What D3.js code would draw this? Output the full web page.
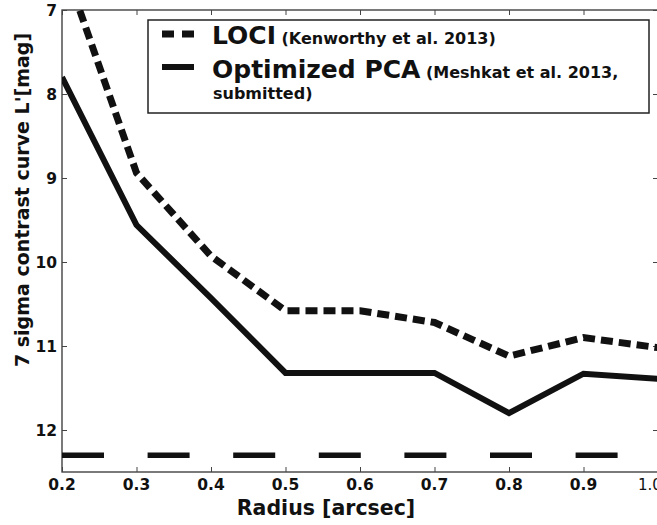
<!DOCTYPE html>
<html>
<head>
<meta charset="utf-8">
<script src="https://cdn.jsdelivr.net/npm/d3@7"></script>
<style>
  body { margin: 0; background: #fff; }
  text { font-family: "DejaVu Sans", sans-serif; font-weight: bold; fill: #111; }
</style>
</head>
<body>
<div id="chart"></div>
<script>

const FRAME_WIDTH = 657;
const FRAME_HEIGHT = 525;
const MARGINS = {left: 62, right: -1, top: 10, bottom: 53};

const VIS_WIDTH = FRAME_WIDTH - MARGINS.left - MARGINS.right;
const VIS_HEIGHT = FRAME_HEIGHT - MARGINS.top - MARGINS.bottom;

// data
const RADIUS = [0.2, 0.3, 0.4, 0.5, 0.6, 0.7, 0.8, 0.9, 1.0];
const LOCI = [6.4, 8.94, 9.93, 10.58, 10.58, 10.72, 11.12, 10.9, 11.02];
const PCA = [7.8, 9.56, 10.43, 11.32, 11.32, 11.32, 11.8, 11.33, 11.39];
const LIMIT_RADIUS = [0.2, 1.0];
const LIMIT = [12.3, 12.3];
const X_TICKS = [0.2, 0.3, 0.4, 0.5, 0.6, 0.7, 0.8, 0.9, 1.0];
const Y_TICKS = [7, 8, 9, 10, 11, 12];

const FRAME = d3.select("#chart")
                .append("svg")
                  .attr("width", FRAME_WIDTH)
                  .attr("height", FRAME_HEIGHT);

const X_SCALE = d3.scaleLinear().domain([0.2, 1.0]).range([0, VIS_WIDTH]);
const Y_SCALE = d3.scaleLinear().domain([7, 12.5]).range([0, VIS_HEIGHT]);

const G = FRAME.append("g")
               .attr("transform", "translate(" + MARGINS.left + "," + MARGINS.top + ")");

G.append("clipPath").attr("id", "clip")
  .append("rect").attr("width", VIS_WIDTH).attr("height", VIS_HEIGHT);

// frame
G.append("rect")
  .attr("width", VIS_WIDTH).attr("height", VIS_HEIGHT)
  .attr("fill", "none").attr("stroke", "#333").attr("stroke-width", 1.3);

// inward ticks on all four sides
const tickStyle = (g) => {
  g.select(".domain").remove();
  g.selectAll(".tick line").attr("stroke", "#444").attr("stroke-width", 1);
};

G.append("g").attr("transform", "translate(0," + VIS_HEIGHT + ")")
  .call(d3.axisBottom(X_SCALE).tickValues(X_TICKS).tickSize(-5).tickFormat(""))
  .call(tickStyle);
G.append("g")
  .call(d3.axisTop(X_SCALE).tickValues(X_TICKS).tickSize(-5).tickFormat(""))
  .call(tickStyle);
G.append("g")
  .call(d3.axisLeft(Y_SCALE).tickValues(Y_TICKS).tickSize(-5).tickFormat(""))
  .call(tickStyle);
G.append("g").attr("transform", "translate(" + VIS_WIDTH + ",0)")
  .call(d3.axisRight(Y_SCALE).tickValues(Y_TICKS).tickSize(-5).tickFormat(""))
  .call(tickStyle);

// tick labels
G.selectAll(".xlab")
  .data(X_TICKS)
  .enter()
  .append("text")
    .attr("x", (d) => X_SCALE(d))
    .attr("y", VIS_HEIGHT + 18)
    .attr("text-anchor", "middle")
    .style("font-size", (d) => d === 1.0 ? "15px" : "15.5px")
    .style("font-weight", (d) => d === 1.0 ? "normal" : "bold")
    .attr("dx", (d) => d === 1.0 ? -8 : 0)
    .text((d) => d.toFixed(1));

G.selectAll(".ylab")
  .data(Y_TICKS)
  .enter()
  .append("text")
    .attr("x", -5)
    .attr("y", (d) => Y_SCALE(d) + 6)
    .attr("text-anchor", "end")
    .style("font-size", "15.5px")
    .text((d) => d);

// axis titles
FRAME.append("text")
  .attr("x", 326).attr("y", 515)
  .attr("text-anchor", "middle")
  .style("font-size", "20.5px")
  .text("Radius [arcsec]");

FRAME.append("text")
  .attr("transform", "translate(29,200) rotate(-90)")
  .attr("text-anchor", "middle")
  .style("font-size", "19px")
  .text("7 sigma contrast curve L'[mag]");

// curves
const line = d3.line()
               .x((d) => X_SCALE(d[0]))
               .y((d) => Y_SCALE(d[1]));

const PLOT = G.append("g").attr("clip-path", "url(#clip)");

PLOT.append("path")
  .datum(d3.zip(LIMIT_RADIUS, LIMIT))
  .attr("d", line)
  .attr("fill", "none").attr("stroke", "#111")
  .attr("stroke-width", 5.5).attr("stroke-dasharray", "42,43.6");

PLOT.append("path")
  .datum(d3.zip(RADIUS, PCA))
  .attr("d", line)
  .attr("fill", "none").attr("stroke", "#111")
  .attr("stroke-width", 6).attr("stroke-linejoin", "miter");

PLOT.append("path")
  .datum(d3.zip(RADIUS, LOCI))
  .attr("d", line)
  .attr("fill", "none").attr("stroke", "#111")
  .attr("stroke-width", 7).attr("stroke-dasharray", "12,6");

// legend
const LEG = FRAME.append("g");
LEG.append("rect")
  .attr("x", 148).attr("y", 20).attr("width", 501).attr("height", 93)
  .attr("fill", "#fff").attr("stroke", "#222").attr("stroke-width", 1.5);

LEG.append("line")
  .attr("x1", 162).attr("x2", 194).attr("y1", 34).attr("y2", 34)
  .attr("stroke", "#111").attr("stroke-width", 7).attr("stroke-dasharray", "12,8");
LEG.append("line")
  .attr("x1", 162).attr("x2", 194).attr("y1", 67).attr("y2", 67)
  .attr("stroke", "#111").attr("stroke-width", 6);

const t1 = LEG.append("text").attr("x", 212).attr("y", 44);
t1.append("tspan").style("font-size", "25px").text("LOCI");
t1.append("tspan").style("font-size", "16px").text(" (Kenworthy et al. 2013)");

const t2 = LEG.append("text").attr("x", 212).attr("y", 78);
t2.append("tspan").style("font-size", "25px").text("Optimized PCA");
t2.append("tspan").style("font-size", "16px").text(" (Meshkat et al. 2013,");

LEG.append("text").attr("x", 213).attr("y", 99)
  .style("font-size", "16px").text("submitted)");

</script>
</body>
</html>
